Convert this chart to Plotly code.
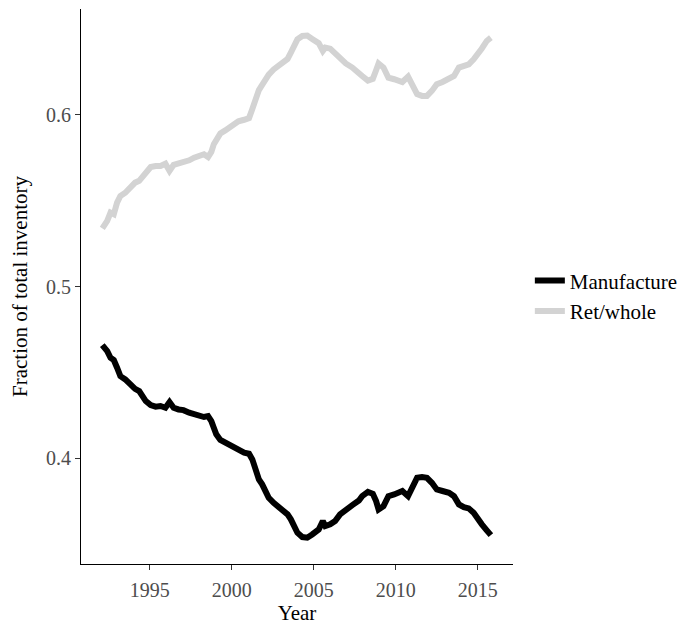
import plotly.graph_objects as go

years = [1992.1, 1992.4, 1992.6, 1992.8, 1993.0, 1993.2, 1993.5, 1993.8, 1994.1, 1994.35,
         1994.55, 1994.75, 1995.05, 1995.35, 1995.65, 1995.95, 1996.2, 1996.45, 1996.75, 1997.05,
         1997.4, 1997.7, 1998.0, 1998.3, 1998.55, 1998.75, 1998.9, 1999.05, 1999.3, 1999.6,
         2000.0, 2000.4, 2000.75, 2001.05, 2001.25, 2001.45, 2001.65, 2001.85, 2002.05, 2002.25,
         2002.55, 2002.85, 2003.15, 2003.4, 2003.6, 2003.8, 2004.0, 2004.3, 2004.6, 2004.9,
         2005.1, 2005.3, 2005.55, 2005.7, 2006.0, 2006.3, 2006.6, 2006.95, 2007.35, 2007.75,
         2007.95, 2008.3, 2008.6, 2008.8, 2008.95, 2009.25, 2009.55, 2009.9, 2010.1, 2010.4,
         2010.75, 2011.05, 2011.3, 2011.6, 2011.9, 2012.2, 2012.5, 2012.85, 2013.25, 2013.55,
         2013.85, 2014.15, 2014.45, 2014.75, 2015.0, 2015.25, 2015.55, 2015.8]

manufacture = [0.4660, 0.4625, 0.4586, 0.4573, 0.4528, 0.4479, 0.4460, 0.4431, 0.4405, 0.4392,
               0.4363, 0.4334, 0.4310, 0.4301, 0.4305, 0.4295, 0.4328, 0.4295, 0.4285, 0.4281,
               0.4266, 0.4256, 0.4246, 0.4241, 0.4246, 0.4217, 0.4178, 0.4140, 0.4107, 0.4091,
               0.4072, 0.4043, 0.4033, 0.4027, 0.3994, 0.3936, 0.3878, 0.3849, 0.3810, 0.3771,
               0.3741, 0.3716, 0.3697, 0.3674, 0.3645, 0.3606, 0.3567, 0.3542, 0.3538, 0.3557,
               0.3577, 0.3586, 0.3635, 0.3606, 0.3616, 0.3635, 0.3674, 0.3703, 0.3728, 0.3755,
               0.3780, 0.3805, 0.3794, 0.3751, 0.3703, 0.3722, 0.3780, 0.3790, 0.3800, 0.3810,
               0.3780, 0.3829, 0.3887, 0.3891, 0.3887, 0.3858, 0.3819, 0.3810, 0.3800, 0.3780,
               0.3732, 0.3716, 0.3709, 0.3683, 0.3645, 0.3616, 0.3581, 0.3553]

ret_whole = [0.5340, 0.5383, 0.5431, 0.5422, 0.5489, 0.5528, 0.5547, 0.5577, 0.5606, 0.5616,
             0.5640, 0.5670, 0.5697, 0.5703, 0.5703, 0.5716, 0.5674, 0.5709, 0.5716, 0.5722,
             0.5736, 0.5751, 0.5761, 0.5771, 0.5755, 0.5785, 0.5830, 0.5860, 0.5893, 0.5910,
             0.5936, 0.5963, 0.5972, 0.5982, 0.6035, 0.6100, 0.6145, 0.6175, 0.6208, 0.6235,
             0.6265, 0.6285, 0.6300, 0.6326, 0.6363, 0.6412, 0.6440, 0.6460, 0.6462, 0.6443,
             0.6430, 0.6418, 0.6373, 0.6392, 0.6386, 0.6360, 0.6326, 0.6300, 0.6276, 0.6250,
             0.6227, 0.6200, 0.6210, 0.6260, 0.6300, 0.6276, 0.6217, 0.6208, 0.6200, 0.6192,
             0.6223, 0.6169, 0.6121, 0.6111, 0.6111, 0.6140, 0.6179, 0.6192, 0.6208, 0.6227,
             0.6276, 0.6286, 0.6295, 0.6324, 0.6363, 0.6387, 0.6431, 0.6450]

x_ticks = [1995, 2000, 2005, 2010, 2015]
y_ticks = [0.4, 0.5, 0.6]
y_tick_labels = ["0.4", "0.5", "0.6"]

FONT = "Liberation Serif"

fig = go.Figure()
fig.add_trace(go.Scatter(x=years, y=manufacture, mode="lines", name="Manufacture",
                         line=dict(color="#000000", width=6)))
fig.add_trace(go.Scatter(x=years, y=ret_whole, mode="lines", name="Ret/whole",
                         line=dict(color="#d3d3d3", width=6)))

axis_common = dict(showgrid=False, zeroline=False, showline=True, linecolor="#000000",
                   linewidth=1.1, ticks="outside", ticklen=5, tickcolor="#333333",
                   tickwidth=1.1)

fig.update_layout(
    width=679, height=617,
    margin=dict(l=73, r=174, t=1, b=61, autoexpand=False),
    paper_bgcolor="white", plot_bgcolor="white",
    font=dict(family=FONT, size=20, color="#000000"),
    xaxis=dict(range=[1990.8, 2017.15], tickvals=x_ticks, automargin=False,
               tickfont=dict(family=FONT, size=20, color="#4d4d4d"), ticklabelstandoff=3,
               title=dict(text="Year", font=dict(family=FONT, size=21, color="#000000"), standoff=6),
               **axis_common),
    yaxis=dict(range=[0.3385, 0.6617], tickvals=y_ticks, ticktext=y_tick_labels, automargin=False,
               tickfont=dict(family=FONT, size=20, color="#4d4d4d"),
               title=dict(text="Fraction of total inventory", font=dict(family=FONT, size=21, color="#000000"), standoff=14),
               **axis_common),
    legend=dict(x=1.039, y=0.483, xanchor="left", yanchor="middle",
                font=dict(family=FONT, size=21, color="#000000"),
                itemwidth=30, bgcolor="rgba(0,0,0,0)", tracegroupgap=0),
    showlegend=True,
)

fig.write_html("out.html")
